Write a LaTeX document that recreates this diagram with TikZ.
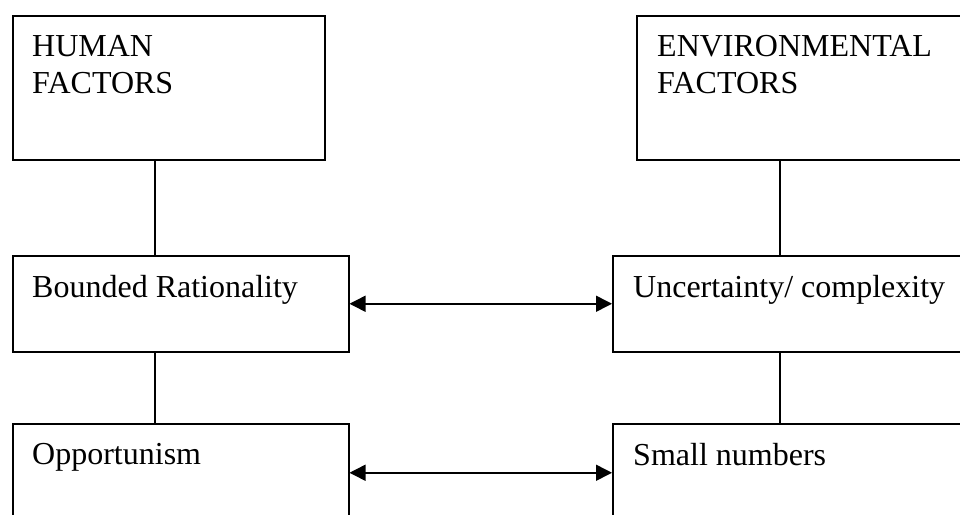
\documentclass[tikz,border=0pt]{standalone}
\usepackage{fontspec}
\setmainfont{Liberation Serif}
\usetikzlibrary{arrows.meta}
\tikzset{
  box/.style={draw, line width=1.5pt, rectangle, inner sep=0pt, anchor=north west},
  lbl/.style={anchor=north west, inner sep=0pt, align=left, xshift=20pt, yshift=-20pt,
    font=\fontsize{32}{37}\selectfont},
  link/.style={line width=1.5pt},
  both/.style={line width=1.5pt, {Triangle[length=16pt,width=16pt]}-{Triangle[length=16pt,width=16pt]}}
}

\begin{document}
\begin{tikzpicture}[x=1pt,y=-1pt]
    \useasboundingbox (0,0) rectangle (960,514);
    \clip (0,0) rectangle (960,514);
    \coordinate (lx) at (155,0);
    \coordinate (rx) at (780,0);
    % left column
    \node[box, minimum width=312pt, minimum height=144pt,
      label={[lbl]north west:HUMAN\\FACTORS}] (hum) at (12,15) {};
    \node[box, minimum width=336pt, minimum height=96pt,
      label={[lbl]north west:Bounded Rationality}] (bnd) at (12,255) {};
    \node[box, minimum width=336pt, minimum height=98pt,
      label={[lbl]north west:Opportunism}] (opp) at (12,423) {};
    % right column
    \node[box, minimum width=340pt, minimum height=144pt,
      label={[lbl,xshift=1pt]north west:ENVIRONMENTAL\\FACTORS}] (env) at (636,15) {};
    \node[box, minimum width=364pt, minimum height=96pt,
      label={[lbl,xshift=1pt]north west:Uncertainty/ complexity}] (unc) at (612,255) {};
    \node[box, minimum width=364pt, minimum height=98pt,
      label={[lbl,xshift=1pt]north west:Small numbers}] (sml) at (612,423) {};
    \draw[link] (hum.south -| lx) -- (bnd.north -| lx);
    \draw[link] (bnd.south -| lx) -- (opp.north -| lx);
    \draw[link] (env.south -| rx) -- (unc.north -| rx);
    \draw[link] (unc.south -| rx) -- (sml.north -| rx);
    \draw[both] (bnd.east) -- (unc.west);
    \draw[both] (opp.east) -- (sml.west);
\end{tikzpicture}
\end{document}
